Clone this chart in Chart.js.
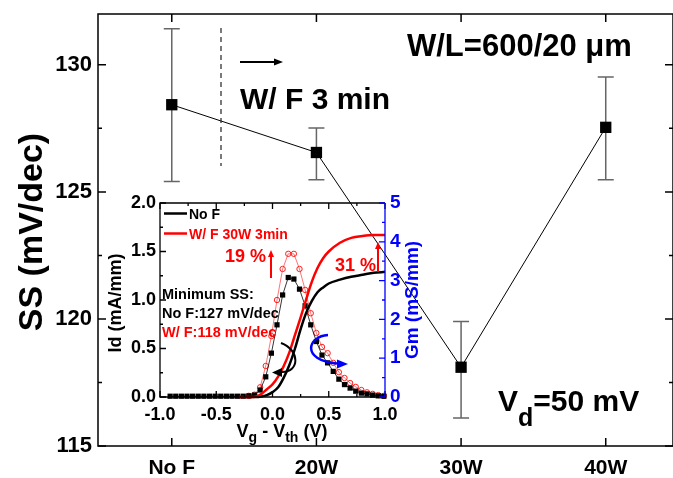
<!DOCTYPE html>
<html><head><meta charset="utf-8">
<script src="https://cdn.jsdelivr.net/npm/chart.js@4/dist/chart.umd.min.js"></script>
<style>
html,body{margin:0;padding:0;background:#fff;}
#wrap{position:relative;width:673px;height:478px;overflow:hidden;background:#fff;}
#main{position:absolute;left:0;top:0;}
#inset{position:absolute;left:95px;top:190px;}
</style></head><body>
<div id="wrap"><canvas id="main" width="673" height="478"></canvas><canvas id="inset" width="340" height="262"></canvas></div>
<script>
// ---------- main chart data ----------
const categories = ['No F', '20W', '30W', '40W'];
const ssValues   = [128.43, 126.55, 118.1, 127.54];
const ssErrLow   = [125.41, 125.48, 116.1, 125.48];
const ssErrHigh  = [131.42, 127.51, 119.9, 129.52];
const ssTicks    = [115, 120, 125, 130];
const ssMinor    = [117.5, 122.5, 127.5];

// ---------- inset data ----------
const idX   = [-0.3,-0.25,-0.2,-0.15,-0.1,-0.05,0,0.05,0.1,0.15,0.2,0.25,0.3,0.35,0.4,0.45,0.5,0.6,0.7,0.8,0.9,1.0];
const idNoF = [0,0,0,0,0.005,0.02,0.05,0.1,0.2,0.33,0.5,0.7,0.87,0.99,1.08,1.13,1.17,1.21,1.24,1.26,1.28,1.29];
const idWF  = [0,0,0,0.003,0.03,0.08,0.13,0.21,0.32,0.46,0.64,0.82,1.01,1.19,1.33,1.43,1.5,1.59,1.64,1.66,1.67,1.67];
const gmX   = [-0.91,-0.86,-0.81,-0.76,-0.71,-0.66,-0.61,-0.56,-0.51,-0.46,-0.41,-0.36,-0.31,-0.26,
               -0.21,-0.16,-0.11,-0.06,-0.01,0.04,0.09,0.14,0.19,0.24,0.29,0.34,0.39,0.44,0.49,0.54,
               0.59,0.64,0.69,0.74,0.79,0.84,0.89,0.94,0.99];
const gmNoF = [0.02,0.02,0.02,0.02,0.02,0.02,0.02,0.02,0.02,0.02,0.02,0.02,0.02,0.02,
               0.03,0.05,0.18,0.52,1.13,1.86,2.63,3.08,3.04,2.78,2.35,1.86,1.43,1.08,0.88,0.66,
               0.46,0.32,0.23,0.15,0.10,0.08,0.05,0.03,0.02];
const gmWF  = [null,null,null,null,null,null,null,null,null,null,null,null,null,null,
               0.03,0.06,0.25,0.8,1.57,2.5,3.3,3.69,3.69,3.3,2.76,2.16,1.65,1.29,1.13,0.88,
               0.64,0.49,0.36,0.26,0.18,0.12,0.08,0.05,0.03];
const insetXTicks  = [-1, -0.5, 0, 0.5, 1];
const insetXMinor  = [-0.75, -0.25, 0.25, 0.75];
const insetIdTicks = [0, 0.5, 1, 1.5, 2];
const insetIdMinor = [0.25, 0.75, 1.25, 1.75];
const insetGmTicks = [0, 1, 2, 3, 4, 5];
const insetGmMinor = [0.5, 1.5, 2.5, 3.5, 4.5];

const FF = "'Liberation Sans', Arial, sans-serif";
const bold = s => `bold ${s}px ${FF}`;

function arrowHead(ctx, tx, ty, dir, len, half) {
  ctx.save();
  ctx.translate(tx, ty); ctx.rotate(dir);
  ctx.beginPath(); ctx.moveTo(0, 0); ctx.lineTo(-len, -half); ctx.lineTo(-len, half); ctx.closePath(); ctx.fill();
  ctx.restore();
}
const noPad = s => { s.paddingLeft = 0; s.paddingRight = 0; s.paddingTop = 0; s.paddingBottom = 0; };

// ---------- main chart ----------
const mainDecor = {
  id: 'mainDecor',
  beforeDatasetsDraw(chart) {
    const {ctx, scales: {x, y}} = chart;
    ctx.save();
    ctx.strokeStyle = '#666'; ctx.lineWidth = 1.5;
    ssValues.forEach((v, i) => {
      const px = x.getPixelForValue(i);
      const yl = y.getPixelForValue(ssErrLow[i]), yh = y.getPixelForValue(ssErrHigh[i]);
      ctx.beginPath();
      ctx.moveTo(px, yl); ctx.lineTo(px, yh);
      ctx.moveTo(px - 8, yl); ctx.lineTo(px + 8, yl);
      ctx.moveTo(px - 8, yh); ctx.lineTo(px + 8, yh);
      ctx.stroke();
    });
    ctx.restore();
  },
  afterDraw(chart) {
    const {ctx, chartArea: a, scales: {x, y}} = chart;
    ctx.save();
    ctx.strokeStyle = '#000'; ctx.lineWidth = 1.5;
    ctx.strokeRect(a.left, a.top, a.right - a.left, a.bottom - a.top);
    ctx.beginPath();
    ssTicks.forEach(v => { const p = y.getPixelForValue(v);
      ctx.moveTo(a.left, p); ctx.lineTo(a.left + 8, p); ctx.moveTo(a.right, p); ctx.lineTo(a.right - 8, p); });
    ssMinor.forEach(v => { const p = y.getPixelForValue(v);
      ctx.moveTo(a.left, p); ctx.lineTo(a.left + 4, p); ctx.moveTo(a.right, p); ctx.lineTo(a.right - 4, p); });
    categories.forEach((c, i) => { const p = x.getPixelForValue(i);
      ctx.moveTo(p, a.bottom); ctx.lineTo(p, a.bottom - 8); ctx.moveTo(p, a.top); ctx.lineTo(p, a.top + 8); });
    ctx.stroke();

    ctx.save();
    ctx.setLineDash([5, 4]); ctx.lineWidth = 1.2; ctx.strokeStyle = '#222';
    ctx.beginPath(); ctx.moveTo(221, 28); ctx.lineTo(221, 166); ctx.stroke();
    ctx.restore();
    ctx.fillStyle = '#000'; ctx.lineWidth = 2;
    ctx.beginPath(); ctx.moveTo(240, 62); ctx.lineTo(276, 62); ctx.stroke();
    arrowHead(ctx, 283, 62, 0, 9, 3.5);

    ctx.fillStyle = '#000'; ctx.textBaseline = 'alphabetic'; ctx.textAlign = 'left';
    ctx.font = bold(31); ctx.fillText('W/L=600/20 \u03bcm', 407, 56);
    ctx.font = bold(30); ctx.fillText('W/ F 3 min', 240, 109);
    let xx = 498;
    ctx.font = bold(30); ctx.fillText('V', xx, 411); xx += ctx.measureText('V').width;
    ctx.font = bold(25); ctx.fillText('d', xx, 426); xx += ctx.measureText('d').width;
    ctx.font = bold(30); ctx.fillText('=50 mV', xx, 411);

    ctx.save();
    ctx.translate(42, 232); ctx.rotate(-Math.PI / 2);
    ctx.textAlign = 'center'; ctx.font = bold(34);
    ctx.fillText('SS (mV/dec)', 0, 0);
    ctx.restore();
    ctx.restore();
  }
};

new Chart(document.getElementById('main'), {
  type: 'line',
  data: { datasets: [{
    data: ssValues.map((v, i) => ({x: i, y: v})),
    borderColor: '#000', borderWidth: 1, tension: 0,
    pointStyle: 'rect', pointRadius: 8, pointBackgroundColor: '#000', pointBorderColor: '#000', pointBorderWidth: 0
  }]},
  options: {
    responsive: false, animation: false, devicePixelRatio: 1,
    layout: {autoPadding: false, padding: {top: 14, left: 0, right: 0, bottom: 0}},
    plugins: {legend: {display: false}, tooltip: {enabled: false}},
    scales: {
      x: {type: 'linear', min: -0.51, max: 3.465,
          afterBuildTicks: s => { s.ticks = categories.map((c, i) => ({value: i})); },
          afterFit: s => { s.height = 32; noPad(s); },
          grid: {display: false, drawTicks: false}, border: {display: false},
          ticks: {padding: 10, color: '#000', font: {family: FF, size: 21, weight: 'bold'}, autoSkip: false, maxRotation: 0,
                  callback: v => categories[v]}},
      y: {min: 115, max: 132,
          afterBuildTicks: s => { s.ticks = ssTicks.map(v => ({value: v})); },
          afterFit: s => { s.width = 98; noPad(s); },
          grid: {display: false, drawTicks: false}, border: {display: false},
          ticks: {padding: 6, color: '#000', font: {family: FF, size: 22, weight: 'bold'}, callback: v => String(v)}}
    }
  },
  plugins: [mainDecor]
});

// ---------- inset chart ----------
const OX = 95, OY = 190;
const insetDecor = {
  id: 'insetDecor',
  afterDraw(chart) {
    const {ctx, chartArea: a, scales: {x, y, y2}} = chart;
    ctx.save();
    ctx.lineWidth = 1.3; ctx.strokeStyle = '#000';
    ctx.beginPath();
    ctx.moveTo(a.right, a.top); ctx.lineTo(a.left, a.top); ctx.lineTo(a.left, a.bottom); ctx.lineTo(a.right, a.bottom);
    ctx.stroke();
    ctx.beginPath();
    insetIdTicks.forEach(v => { const p = y.getPixelForValue(v); ctx.moveTo(a.left, p); ctx.lineTo(a.left + 6, p); });
    insetIdMinor.forEach(v => { const p = y.getPixelForValue(v); ctx.moveTo(a.left, p); ctx.lineTo(a.left + 3, p); });
    insetXTicks.forEach(v => { const p = x.getPixelForValue(v);
      ctx.moveTo(p, a.bottom); ctx.lineTo(p, a.bottom - 6); ctx.moveTo(p, a.top); ctx.lineTo(p, a.top + 6); });
    insetXMinor.forEach(v => { const p = x.getPixelForValue(v);
      ctx.moveTo(p, a.bottom); ctx.lineTo(p, a.bottom - 3); ctx.moveTo(p, a.top); ctx.lineTo(p, a.top + 3); });
    ctx.stroke();
    ctx.strokeStyle = '#0000ff';
    ctx.beginPath();
    ctx.moveTo(a.right, a.top); ctx.lineTo(a.right, a.bottom);
    insetGmTicks.forEach(v => { const p = y2.getPixelForValue(v); ctx.moveTo(a.right, p); ctx.lineTo(a.right - 6, p); });
    insetGmMinor.forEach(v => { const p = y2.getPixelForValue(v); ctx.moveTo(a.right, p); ctx.lineTo(a.right - 3, p); });
    ctx.stroke();

    ctx.translate(-OX, -OY);
    ctx.lineWidth = 2.5;
    ctx.strokeStyle = '#000'; ctx.beginPath(); ctx.moveTo(164, 213.5); ctx.lineTo(187, 213.5); ctx.stroke();
    ctx.strokeStyle = '#ff0000'; ctx.beginPath(); ctx.moveTo(164, 233.5); ctx.lineTo(187, 233.5); ctx.stroke();
    ctx.textAlign = 'left'; ctx.textBaseline = 'alphabetic';
    ctx.font = bold(14); ctx.fillStyle = '#000'; ctx.fillText('No F', 189, 219);
    ctx.fillStyle = '#ff0000'; ctx.fillText('W/ F 30W 3min', 189, 239);

    ctx.font = bold(18); ctx.fillStyle = '#ff0000'; ctx.strokeStyle = '#ff0000'; ctx.lineWidth = 2;
    ctx.fillText('19 %', 225, 262);
    ctx.fillText('31 %', 335, 271);
    ctx.beginPath(); ctx.moveTo(271, 278); ctx.lineTo(271, 256); ctx.moveTo(378, 272); ctx.lineTo(378, 248); ctx.stroke();
    arrowHead(ctx, 271, 250, -Math.PI / 2, 7, 3);
    arrowHead(ctx, 378, 242, -Math.PI / 2, 7, 3);

    ctx.font = bold(14.5);
    ctx.fillStyle = '#000';
    ctx.fillText('Minimum SS:', 162, 299);
    ctx.fillText('No F:127 mV/dec', 162, 318);
    ctx.fillStyle = '#ff0000';
    ctx.fillText('W/ F:118 mV/dec', 162, 337);

    ctx.lineWidth = 2; ctx.strokeStyle = '#000'; ctx.fillStyle = '#000';
    ctx.beginPath(); ctx.moveTo(281, 343); ctx.bezierCurveTo(300, 350, 300, 372, 282, 372); ctx.stroke();
    arrowHead(ctx, 272, 372.5, Math.PI, 10, 4.5);
    ctx.lineWidth = 2.5; ctx.strokeStyle = '#0000ff'; ctx.fillStyle = '#0000ff';
    ctx.beginPath(); ctx.moveTo(328, 335); ctx.bezierCurveTo(308, 336, 300, 360, 337, 363.5); ctx.stroke();
    arrowHead(ctx, 348, 364, 0, 11, 4.5);

    ctx.fillStyle = '#000';
    ctx.save(); ctx.translate(120.5, 303); ctx.rotate(-Math.PI / 2);
    ctx.textAlign = 'center'; ctx.font = bold(18); ctx.fillText('Id (mA/mm)', 0, 0); ctx.restore();
    ctx.fillStyle = '#0000ff';
    ctx.save(); ctx.translate(418, 300); ctx.rotate(-Math.PI / 2);
    ctx.textAlign = 'center'; ctx.font = bold(19); ctx.fillText('Gm (mS/mm)', 0, 0); ctx.restore();

    ctx.fillStyle = '#000';
    const parts = [['V', 18, 0], ['g', 14, 5], [' - V', 18, 0], ['th', 14, 5], [' (V)', 18, 0]];
    let w = 0;
    parts.forEach(p => { ctx.font = bold(p[1]); w += ctx.measureText(p[0]).width; });
    let xx = 282 - w / 2;
    parts.forEach(p => { ctx.font = bold(p[1]); ctx.fillText(p[0], xx, 437 + p[2]); xx += ctx.measureText(p[0]).width; });
    ctx.restore();
  }
};

new Chart(document.getElementById('inset'), {
  type: 'line',
  data: { datasets: [
    {data: idX.map((v, i) => ({x: v, y: idNoF[i]})), yAxisID: 'y', borderColor: '#000', borderWidth: 2.5,
     pointRadius: 0, cubicInterpolationMode: 'monotone', order: 1, clip: false},
    {data: idX.map((v, i) => ({x: v, y: idWF[i]})), yAxisID: 'y', borderColor: '#ff0000', borderWidth: 2.5,
     pointRadius: 0, cubicInterpolationMode: 'monotone', order: 0, clip: false},
    {data: gmX.map((v, i) => ({x: v, y: gmNoF[i]})), yAxisID: 'y2', borderColor: '#000', borderWidth: 0.8,
     pointStyle: 'rect', pointRadius: 3.7, pointBackgroundColor: '#000', pointBorderWidth: 0, order: 2, clip: false},
    {data: gmX.map((v, i) => ({x: v, y: gmWF[i]})), yAxisID: 'y2', borderColor: '#ff5050', borderWidth: 0.8,
     pointStyle: 'circle', pointRadius: 2.7, pointBackgroundColor: 'rgba(255,255,255,0)', pointBorderColor: '#ff2020',
     pointBorderWidth: 1, order: 3, clip: false}
  ]},
  options: {
    responsive: false, animation: false, devicePixelRatio: 1,
    layout: {autoPadding: false, padding: {top: 13, left: 0, right: 0, bottom: 0}},
    plugins: {legend: {display: false}, tooltip: {enabled: false}},
    scales: {
      x: {type: 'linear', min: -1, max: 1,
          afterBuildTicks: s => { s.ticks = insetXTicks.map(v => ({value: v})); },
          afterFit: s => { s.height = 55; noPad(s); },
          grid: {display: false, drawTicks: false}, border: {display: false},
          ticks: {padding: 7, color: '#000', font: {family: FF, size: 18, weight: 'bold'}, autoSkip: false, maxRotation: 0,
                  callback: v => v.toFixed(1)}},
      y: {position: 'left', min: 0, max: 2,
          afterBuildTicks: s => { s.ticks = insetIdTicks.map(v => ({value: v})); },
          afterFit: s => { s.width = 65; noPad(s); },
          grid: {display: false, drawTicks: false}, border: {display: false},
          ticks: {padding: 4, color: '#000', font: {family: FF, size: 18, weight: 'bold'}, callback: v => v.toFixed(1)}},
      y2: {position: 'right', min: 0, max: 5,
          afterBuildTicks: s => { s.ticks = insetGmTicks.map(v => ({value: v})); },
          afterFit: s => { s.width = 50; noPad(s); },
          grid: {display: false, drawTicks: false}, border: {display: false},
          ticks: {padding: 5, color: '#0000ff', font: {family: FF, size: 19, weight: 'bold'}, callback: v => String(v)}}
    }
  },
  plugins: [insetDecor]
});
</script>
</body></html>
